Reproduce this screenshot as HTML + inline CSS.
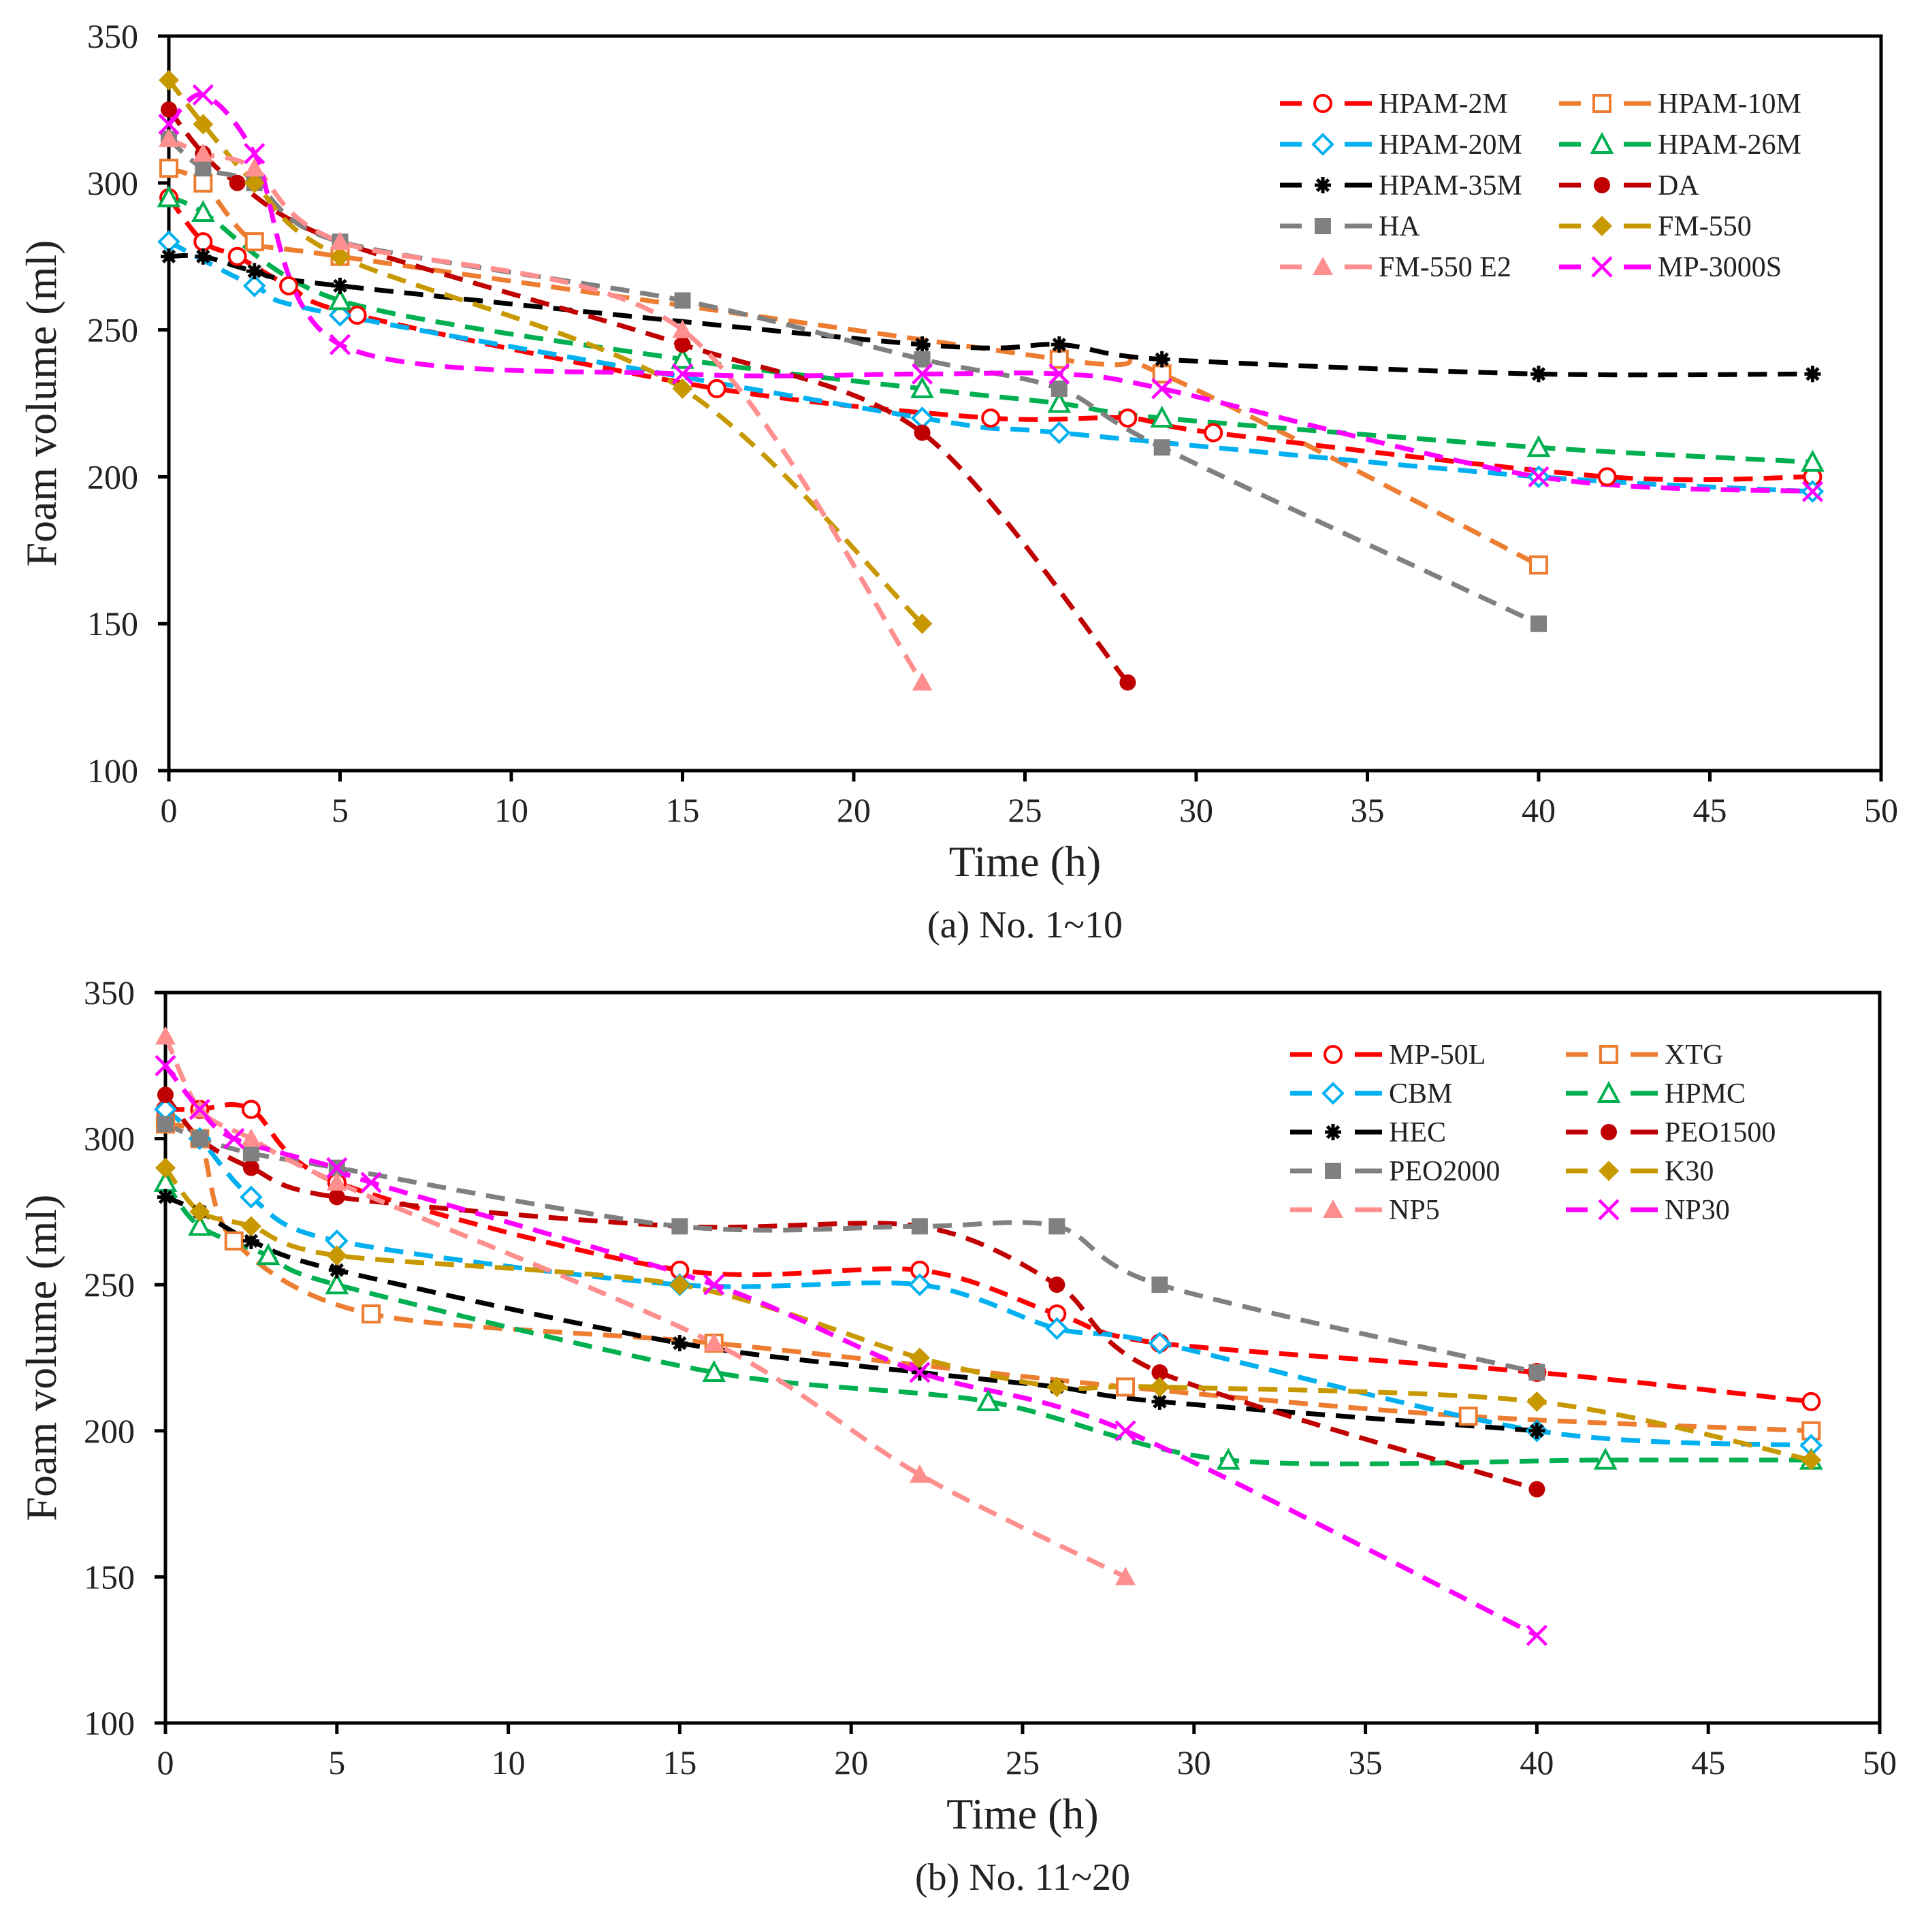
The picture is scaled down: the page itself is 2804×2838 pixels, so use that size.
<!DOCTYPE html>
<html><head><meta charset="utf-8"><style>
html,body{margin:0;padding:0;background:#fff}
svg text{font-family:"Liberation Serif",serif;fill:#222}
</style></head><body>
<svg id="fig" width="2804" height="2833" xmlns="http://www.w3.org/2000/svg"></svg>
<script>
const xTicks=[0,5,10,15,20,25,30,35,40,45,50];
const yTicks=[100,150,200,250,300,350];
// Panel (a)
const namesA=["HPAM-2M","HPAM-10M","HPAM-20M","HPAM-26M","HPAM-35M","DA","HA","FM-550","FM-550 E2","MP-3000S"];
const hpam2mX=[0,1,2,3.5,5.5,16,24,28,30.5,42,48], hpam2mY=[295,280,275,265,255,230,220,220,215,200,200];
const hpam10mX=[0,1,2.5,5,26,29,40], hpam10mY=[305,300,280,275,240,235,170];
const hpam20mX=[0,2.5,5,22,26,40,48], hpam20mY=[280,265,255,220,215,200,195];
const hpam26mX=[0,1,5,15,22,26,29,40,48], hpam26mY=[295,290,260,240,230,225,220,210,205];
const hpam35mX=[0,1,2.5,5,22,26,29,40,48], hpam35mY=[275,275,270,265,245,245,240,235,235];
const daX=[0,1,2,5,15,22,28], daY=[325,310,300,280,245,215,130];
const haX=[0,1,2.5,5,15,22,26,29,40], haY=[315,305,300,280,260,240,230,210,150];
const fm550X=[0,1,2.5,5,15,22], fm550Y=[335,320,300,275,230,150];
const fm550e2X=[0,1,2.5,5,15,22], fm550e2Y=[315,310,305,280,250,130];
const mp3000X=[0,1,2.5,5,15,22,26,29,40,48], mp3000Y=[320,330,310,245,235,235,235,230,200,195];
// Panel (b)
const namesB=["MP-50L","XTG","CBM","HPMC","HEC","PEO1500","PEO2000","K30","NP5","NP30"];
const mp50lX=[0,1,2.5,5,15,22,26,29,40,48], mp50lY=[310,310,310,285,255,255,240,230,220,210];
const xtgX=[0,1,2,6,16,28,38,48], xtgY=[305,300,265,240,230,215,205,200];
const cbmX=[0,1,2.5,5,15,22,26,29,40,48], cbmY=[310,300,280,265,250,250,235,230,200,195];
const hpmcX=[0,1,3,5,16,24,31,42,48], hpmcY=[285,270,260,250,220,210,190,190,190];
const hecX=[0,1,2.5,5,15,22,26,29,40], hecY=[280,275,265,255,230,220,215,210,200];
const peo1500X=[0,1,2.5,5,15,22,26,29,40], peo1500Y=[315,300,290,280,270,270,250,220,180];
const peo2000X=[0,1,2.5,5,15,22,26,29,40], peo2000Y=[305,300,295,290,270,270,270,250,220];
const k30X=[0,1,2.5,5,15,22,26,29,40,48], k30Y=[290,275,270,260,250,225,215,215,210,190];
const np5X=[0,1,2.5,5,16,22,28], np5Y=[335,310,300,285,230,185,150];
const np30X=[0,1,2,5,6,16,22,28,40], np30Y=[325,310,300,290,285,250,220,200,130];

const colors=["#ff0000","#ed7d31","#00b0f0","#00b050","#000000","#c00000","#808080","#c89800","#ff8f8f","#ff00ff"];
const markers=["circle","square","diamond","triangle","star","dot","fsquare","fdiamond","ftriangle","x"];
const NS="http://www.w3.org/2000/svg";
const svg=document.getElementById('fig');
function mk(tag,attrs,parent){const e=document.createElementNS(NS,tag);for(const k in attrs)e.setAttribute(k,attrs[k]);(parent||svg).appendChild(e);return e;}

function marker(g,type,x,y,c){
  const s=12;let e;
  if(type==="circle"){e=mk('circle',{cx:x,cy:y,r:s,fill:'#fff',stroke:c,'stroke-width':4},g);}
  else if(type==="square"){e=mk('rect',{x:x-s,y:y-s,width:2*s,height:2*s,fill:'#fff',stroke:c,'stroke-width':4},g);}
  else if(type==="fsquare"){e=mk('rect',{x:x-s,y:y-s,width:2*s,height:2*s,fill:c},g);}
  else if(type==="diamond"){e=mk('polygon',{points:`${x},${y-s-2} ${x+s+2},${y} ${x},${y+s+2} ${x-s-2},${y}`,fill:'#fff',stroke:c,'stroke-width':4},g);}
  else if(type==="fdiamond"){e=mk('polygon',{points:`${x},${y-s-3} ${x+s+3},${y} ${x},${y+s+3} ${x-s-3},${y}`,fill:c},g);}
  else if(type==="triangle"){e=mk('polygon',{points:`${x},${y-s-2} ${x+s+2},${y+s} ${x-s-2},${y+s}`,fill:'#fff',stroke:c,'stroke-width':4},g);}
  else if(type==="ftriangle"){e=mk('polygon',{points:`${x},${y-s-3} ${x+s+3},${y+s} ${x-s-3},${y+s}`,fill:c},g);}
  else if(type==="dot"){e=mk('circle',{cx:x,cy:y,r:s,fill:c},g);}
  else if(type==="x"){e=mk('path',{d:`M${x-s-2},${y-s-2}L${x+s+2},${y+s+2}M${x+s+2},${y-s-2}L${x-s-2},${y+s+2}`,stroke:c,'stroke-width':4.5,fill:'none'},g);}
  else if(type==="star"){e=mk('path',{d:`M${x-s},${y}L${x+s},${y}M${x-s*0.7},${y-s*0.7}L${x+s*0.7},${y+s*0.7}M${x+s*0.7},${y-s*0.7}L${x-s*0.7},${y+s*0.7}M${x},${y-s}L${x},${y+s}`,stroke:c,'stroke-width':5,fill:'none'},g);}
  
  
}

function smooth(pts){
  if(pts.length<3){return 'M'+pts.map(p=>p.join(',')).join('L');}
  let d=`M${pts[0][0]},${pts[0][1]}`;
  for(let i=0;i<pts.length-1;i++){
    const p0=pts[i-1]||pts[i],p1=pts[i],p2=pts[i+1],p3=pts[i+2]||p2;
    const t=0.15;
    const c1=[p1[0]+(p2[0]-p0[0])*t,p1[1]+(p2[1]-p0[1])*t];
    const c2=[p2[0]-(p3[0]-p1[0])*t,p2[1]-(p3[1]-p1[1])*t];
    d+=`C${c1[0]},${c1[1]} ${c2[0]},${c2[1]} ${p2[0]},${p2[1]}`;
  }
  return d;
}

function panel(cfg){
  const {L,R,T,B,series,names,leg,caption,id}=cfg;
  const sx=v=>L+(v-0)/(50-0)*(R-L);
  const sy=v=>B-(v-100)/(350-100)*(B-T);
  const g=mk('g',{});
  
  
  const box=mk('rect',{x:L,y:T,width:R-L,height:B-T,fill:'none',stroke:'#000','stroke-width':5},g);
  
  
  xTicks.forEach(v=>{
    const t=mk('line',{x1:sx(v),x2:sx(v),y1:B,y2:B+16,stroke:'#000','stroke-width':5},g);
    
    
    const lb=mk('text',{x:sx(v),y:B+75,'font-size':50,'text-anchor':'middle'},g);lb.textContent=v;
    
    
  });
  yTicks.forEach(v=>{
    const t=mk('line',{x1:L-16,x2:L,y1:sy(v),y2:sy(v),stroke:'#000','stroke-width':5},g);
    
    
    const lb=mk('text',{x:L-45,y:sy(v)+17,'font-size':50,'text-anchor':'end'},g);lb.textContent=v;
    
    
  });
  const xt=mk('text',{x:(L+R)/2,y:B+155,'font-size':64,'text-anchor':'middle'},g);xt.textContent='Time (h)';
  
  
  const cy=(T+B)/2;
  const yt=mk('text',{x:82,y:cy,'font-size':64,'text-anchor':'middle',transform:`rotate(-90 82 ${cy})`},g);yt.textContent='Foam volume (ml)';
  
  
  const cap=mk('text',{x:(L+R)/2,y:B+245,'font-size':56,'text-anchor':'middle'},g);cap.textContent=caption;
  
  
  series.forEach((s,i)=>{
    const pts=s[0].map((x,j)=>[sx(x),sy(s[1][j])]);
    const p=mk('path',{d:smooth(pts),fill:'none',stroke:colors[i],'stroke-width':7,'stroke-dasharray':'28 16'},g);
    
    
  });
  series.forEach((s,i)=>{
    s[0].forEach((x,j)=>marker(g,markers[i],sx(x),sy(s[1][j]),colors[i]));
  });
  names.forEach((n,i)=>{
    const col=i%2,row=Math.floor(i/2);
    const x0=leg.x[col],y0=leg.y0+row*leg.dy;
    const lg=mk('g',{},g);
    
    
    mk('line',{x1:x0,x2:x0+32,y1:y0,y2:y0,stroke:colors[i],'stroke-width':7},lg);
    mk('line',{x1:x0+95,x2:x0+135,y1:y0,y2:y0,stroke:colors[i],'stroke-width':7},lg);
    marker(lg,markers[i],x0+63,y0,colors[i]);
    const t=mk('text',{x:x0+145,y:y0+14,'font-size':42},lg);t.textContent=n;
  });
}

panel({id:'panel-a',L:248,R:2763,T:53,B:1132,caption:'(a) No. 1~10',names:namesA,
  series:[[hpam2mX,hpam2mY],[hpam10mX,hpam10mY],[hpam20mX,hpam20mY],[hpam26mX,hpam26mY],[hpam35mX,hpam35mY],[daX,daY],[haX,haY],[fm550X,fm550Y],[fm550e2X,fm550e2Y],[mp3000X,mp3000Y]],
  leg:{x:[1880,2290],y0:152,dy:60}});
panel({id:'panel-b',L:243,R:2761,T:1458,B:2531,caption:'(b) No. 11~20',names:namesB,
  series:[[mp50lX,mp50lY],[xtgX,xtgY],[cbmX,cbmY],[hpmcX,hpmcY],[hecX,hecY],[peo1500X,peo1500Y],[peo2000X,peo2000Y],[k30X,k30Y],[np5X,np5Y],[np30X,np30Y]],
  leg:{x:[1895,2300],y0:1549,dy:57}});
</script>
</body></html>
